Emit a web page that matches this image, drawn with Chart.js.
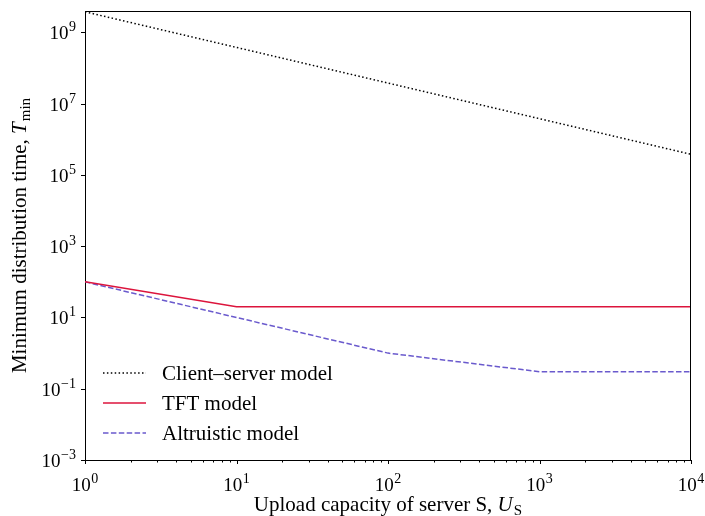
<!DOCTYPE html>
<html>
<head>
<meta charset="utf-8">
<script src="https://cdn.jsdelivr.net/npm/chart.js@4/dist/chart.umd.min.js"></script>
<style>
html,body{margin:0;padding:0;background:#fff;}
canvas{display:block;}
</style>
</head>
<body>
<canvas id="c" width="705" height="516"></canvas>
<script>
// ---- data ----
const xValues = [1, 10, 100, 1000, 10000];
const clientServer = [3.8e9, 3.8e8, 3.8e7, 3.8e6, 3.8e5];
const tftModel = [100, 20, 20, 20, 20];
const altruisticModel = [100, 10, 1, 0.3, 0.3];
const seriesLabels = ['Client\u2013server model', 'TFT model', 'Altruistic model'];
const xTickExponents = [0, 1, 2, 3, 4];
const yTickExponents = [-3, -1, 1, 3, 5, 7, 9];
const xTitle = ['Upload capacity of server S, ', 'U', 'S'];
const yTitle = ['Minimum distribution time, ', 'T', 'min'];

const FONT = '"Liberation Serif", "Times New Roman", serif';
const colors = ['#000000', '#dc143c', '#6a5acd'];
const dashes = [[1.5, 2.4], [], [5.5, 2.4]];

function pts(ys) { return xValues.map((x, i) => ({x: x, y: ys[i]})); }

function drawPow(ctx, exp, x, y, align) {
  const base = '10', sup = String(exp).replace('-', '\u2212');
  ctx.font = '19px ' + FONT;
  const wb = ctx.measureText(base).width;
  ctx.font = '14px ' + FONT;
  const ws = ctx.measureText(sup).width;
  const total = wb + ws + 0.5;
  let left = align === 'center' ? x - total / 2 : x - total;
  ctx.textAlign = 'left';
  ctx.textBaseline = 'alphabetic';
  ctx.fillStyle = '#000';
  ctx.font = '19px ' + FONT;
  ctx.fillText(base, left, y);
  ctx.font = '14px ' + FONT;
  ctx.fillText(sup, left + wb + 0.5, y - 8);
}

const decor = {
  id: 'decor',
  afterDraw(chart) {
    const ctx = chart.ctx, a = chart.chartArea;
    const xs = chart.scales.x, ys = chart.scales.y;
    ctx.save();
    // frame top/right
    ctx.strokeStyle = '#000';
    ctx.lineWidth = 1;
    ctx.beginPath();
    ctx.moveTo(a.left, a.top + 0.5); ctx.lineTo(a.right, a.top + 0.5);
    ctx.moveTo(a.right - 0.5, a.top); ctx.lineTo(a.right - 0.5, a.bottom);
    ctx.stroke();
    // ticks
    ctx.beginPath();
    xTickExponents.forEach((e, i) => {
      const v = Math.pow(10, e);
      const px = Math.round(xs.getPixelForValue(v)) + 0.5;
      ctx.moveTo(px, a.bottom); ctx.lineTo(px, a.bottom + 4);
      if (i < xTickExponents.length - 1) {
        for (let k = 2; k <= 9; k++) {
          const mp = Math.round(xs.getPixelForValue(k * v)) + 0.5;
          ctx.moveTo(mp, a.bottom); ctx.lineTo(mp, a.bottom + 2.5);
        }
      }
    });
    yTickExponents.forEach(e => {
      const py = Math.round(ys.getPixelForValue(Math.pow(10, e))) + 0.5;
      ctx.moveTo(a.left, py); ctx.lineTo(a.left - 4, py);
    });
    ctx.stroke();
    // tick labels
    xTickExponents.forEach(e => {
      drawPow(ctx, e, xs.getPixelForValue(Math.pow(10, e)), 491, 'center');
    });
    yTickExponents.forEach(e => {
      drawPow(ctx, e, a.left - 9, ys.getPixelForValue(Math.pow(10, e)) + 7, 'right');
    });
    // titles
    function drawTitle(parts, cx, cy) {
      ctx.font = '21px ' + FONT;
      const w0 = ctx.measureText(parts[0]).width;
      ctx.font = 'italic 21px ' + FONT;
      const w1 = ctx.measureText(parts[1]).width;
      ctx.font = '15px ' + FONT;
      const w2 = ctx.measureText(parts[2]).width;
      const total = w0 + w1 + w2 + 1;
      let left = cx - total / 2;
      ctx.textAlign = 'left';
      ctx.fillStyle = '#000';
      ctx.font = '21px ' + FONT;
      ctx.fillText(parts[0], left, cy);
      ctx.font = 'italic 21px ' + FONT;
      ctx.fillText(parts[1], left + w0, cy);
      ctx.font = '15px ' + FONT;
      ctx.fillText(parts[2], left + w0 + w1 + 1, cy + 4);
    }
    drawTitle(xTitle, (a.left + a.right) / 2, 511);
    ctx.save();
    ctx.translate(26, (a.top + a.bottom) / 2);
    ctx.rotate(-Math.PI / 2);
    drawTitle(yTitle, 0, 0);
    ctx.restore();
    // legend
    const rowY = [373, 403, 433];
    seriesLabels.forEach((lab, i) => {
      ctx.strokeStyle = colors[i];
      ctx.lineWidth = 1.5;
      ctx.setLineDash(dashes[i]);
      ctx.beginPath();
      ctx.moveTo(103, rowY[i]); ctx.lineTo(146, rowY[i]);
      ctx.stroke();
      ctx.setLineDash([]);
      ctx.fillStyle = '#000';
      ctx.font = '21px ' + FONT;
      ctx.textAlign = 'left';
      ctx.textBaseline = 'middle';
      ctx.fillText(lab, 162, rowY[i] + 1);
      ctx.textBaseline = 'alphabetic';
    });
    ctx.restore();
  }
};

new Chart(document.getElementById('c'), {
  type: 'line',
  data: {
    datasets: [
      {label: seriesLabels[0], data: pts(clientServer), borderColor: colors[0], borderWidth: 1.5, borderDash: dashes[0]},
      {label: seriesLabels[1], data: pts(tftModel), borderColor: colors[1], borderWidth: 1.5, borderDash: dashes[1]},
      {label: seriesLabels[2], data: pts(altruisticModel), borderColor: colors[2], borderWidth: 1.5, borderDash: dashes[2]}
    ]
  },
  options: {
    responsive: false,
    animation: false,
    devicePixelRatio: 1,
    layout: {padding: {left: 85, top: 11, right: 14, bottom: 56}},
    elements: {point: {radius: 0}, line: {tension: 0, fill: false}},
    plugins: {legend: {display: false}, tooltip: {enabled: false}},
    scales: {
      x: {type: 'logarithmic', min: 1, max: 1e4,
          ticks: {display: false}, grid: {display: false, drawTicks: false, tickLength: 0},
          border: {display: true, color: '#000', width: 1}},
      y: {type: 'logarithmic', min: 1e-3, max: 4e9,
          ticks: {display: false}, grid: {display: false, drawTicks: false, tickLength: 0},
          border: {display: true, color: '#000', width: 1}}
    }
  },
  plugins: [decor]
});
</script>
</body>
</html>
